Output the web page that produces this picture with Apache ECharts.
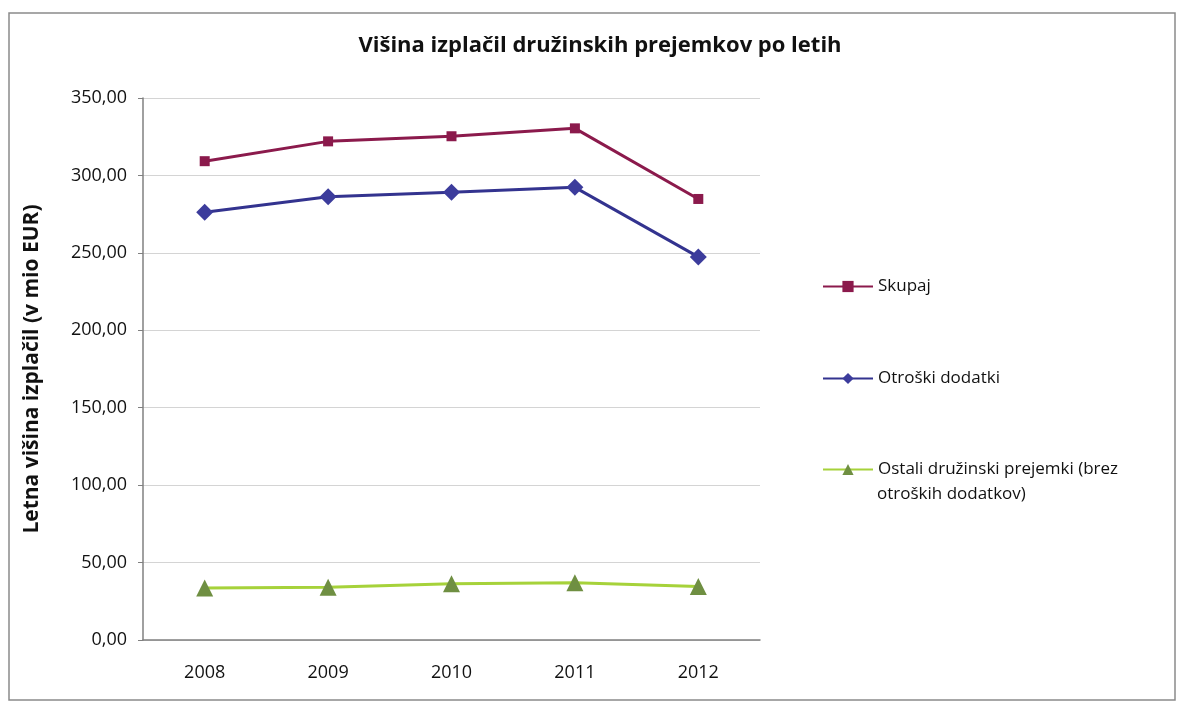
<!DOCTYPE html>
<html>
<head>
<meta charset="utf-8">
<script src="https://cdn.jsdelivr.net/npm/echarts@6/dist/echarts.min.js"></script>
<style>html,body{margin:0;padding:0;background:#fff;}#c{width:1182px;height:703px;}</style>
</head>
<body>
<div id="c"></div>
<script>
const categories = ['2008', '2009', '2010', '2011', '2012'];
const skupaj = [309.2, 322.0, 325.3, 330.4, 284.8];
const otroski = [276.2, 286.2, 289.2, 292.3, 247.4];
const ostali = [33.5, 34.0, 36.3, 36.9, 34.5];
const seriesNames = ['Skupaj', 'Otroški dodatki', 'Ostali družinski prejemki (brez otroških dodatkov)'];
const titleText = 'Višina izplačil družinskih prejemkov po letih';
const yAxisName = 'Letna višina izplačil (v mio EUR)';

const FONT = 'Open Sans';
const chart = echarts.init(document.getElementById('c'));
const splitAt = ' (brez ';
const legendBase = {
  orient: 'vertical', left: 817, itemWidth: 50, itemHeight: 14, itemGap: 0,
  textStyle: { fontFamily: FONT, fontSize: 17, color: '#111' },
  formatter: n => n.indexOf(splitAt) >= 0 ? n.split(splitAt)[0] + ' (brez' : n
};
const secondLine = seriesNames[2].split(splitAt)[1];
chart.setOption({
  animation: false,
  backgroundColor: '#fff',
  title: { text: titleText, left: 595, top: 30, textAlign: 'center',
    textStyle: { fontFamily: FONT, fontSize: 22, fontWeight: 'bold', color: '#111' } },
  graphic: [
    { type: 'rect', shape: { x: 9, y: 13, width: 1166, height: 687 },
      style: { fill: 'none', stroke: '#8a8a8a', lineWidth: 1.5 }, silent: true },
    { type: 'text', left: 877, top: 486,
      style: { text: secondLine, font: '17px "Open Sans"', fill: '#111' }, silent: true }
  ],
  legend: [
    Object.assign({}, legendBase, { top: 273, data: [seriesNames[0]] }),
    Object.assign({}, legendBase, { top: 365, data: [seriesNames[1]] }),
    Object.assign({}, legendBase, { top: 456, data: [seriesNames[2]] })
  ],
  grid: { left: 143, right: 422, top: 98, bottom: 63 },
  xAxis: {
    type: 'category', data: categories, boundaryGap: true,
    axisLine: { lineStyle: { color: '#808080', width: 1.5 } },
    axisTick: { show: false },
    axisLabel: { fontFamily: FONT, fontSize: 18, color: '#111', margin: 24 }
  },
  yAxis: {
    type: 'value', min: 0, max: 350, interval: 50,
    name: yAxisName, nameLocation: 'middle', nameGap: 100,
    nameTextStyle: { fontFamily: FONT, fontSize: 21, fontWeight: 'bold', color: '#111' },
    axisLine: { show: true, lineStyle: { color: '#808080', width: 1.5 } },
    axisTick: { show: true, length: 5, lineStyle: { color: '#808080' } },
    splitLine: { lineStyle: { color: '#d4d4d4', width: 1.2 } },
    axisLabel: { fontFamily: FONT, fontSize: 18, color: '#111', margin: 16,
      formatter: v => v.toFixed(2).replace('.', ',') }
  },
  series: [
    { name: seriesNames[0], type: 'line', data: skupaj, symbol: 'rect', symbolSize: 10,
      lineStyle: { color: '#8b1a4c', width: 3 }, itemStyle: { color: '#8b1a4c' } },
    { name: seriesNames[1], type: 'line', data: otroski, symbol: 'diamond', symbolSize: 17,
      lineStyle: { color: '#33338f', width: 3 }, itemStyle: { color: '#3c3c9c' } },
    { name: seriesNames[2], type: 'line', data: ostali, symbol: 'triangle', symbolSize: 17,
      lineStyle: { color: '#a6d23a', width: 3 }, itemStyle: { color: '#6f8f42' } }
  ]
});
</script>
</body>
</html>
